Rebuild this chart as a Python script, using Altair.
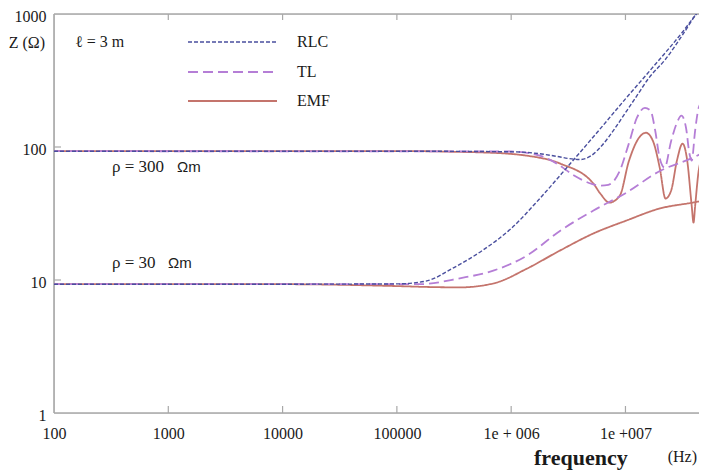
import altair as alt
import pandas as pd

# ---- values (frequency in Hz, impedance in ohm) ----
f_rlc30 = [1e2, 1e4, 1e5, 1.78e5, 3.16e5, 5.62e5, 1e6, 1.78e6, 3.16e6, 5.62e6, 1e7, 1.78e7, 3.16e7, 4.17e7, 4.79e7]
z_rlc30 = [9.3, 9.3, 9.35, 9.8, 12.4, 16.7, 24.4, 41, 72, 128, 230, 408, 733, 1000, 1150]

f_rlc300 = [1e2, 1e5, 1e6, 1.78e6, 2.51e6, 3.16e6, 3.98e6, 5.01e6, 6.31e6, 7.94e6, 1e7, 1.26e7, 1.58e7, 2.24e7, 3.16e7, 4.17e7, 4.79e7]
z_rlc300 = [93, 93, 92, 89, 85, 82, 80.5, 86, 104, 135, 181, 243, 325, 457, 696, 1000, 1150]

f_tl30 = [1e2, 1.58e5, 3.55e5, 7.08e5, 1.38e6, 2.69e6, 5.25e6, 1.02e7, 2.0e7, 3.89e7, 4.79e7]
z_tl30 = [9.3, 9.3, 10.3, 11.8, 15.3, 23.5, 33.3, 45.4, 66, 83, 90.6]

f_tl300 = [1e2, 1e6, 1.78e6, 2.51e6, 3.55e6, 5.01e6, 6.03e6, 7.08e6, 8.91e6, 1.07e7, 1.26e7, 1.48e7,
           1.66e7, 1.82e7, 1.99e7, 2.2e7, 2.51e7, 2.82e7, 3.09e7, 3.39e7, 3.63e7, 3.8e7, 4.07e7, 4.37e7, 4.79e7]
z_tl300 = [93, 92.5, 86, 75, 61, 53, 51.3, 52, 66, 106, 166, 197,
           187, 133, 83, 70, 111, 152, 172, 139, 89, 79, 133, 197, 224]

f_emf30 = [1e2, 1e4, 1e5, 2e5, 3.55e5, 7.08e5, 1.38e6, 2.69e6, 5.25e6, 1.02e7, 2.0e7, 3.89e7, 4.79e7]
z_emf30 = [9.3, 9.3, 9.0, 8.85, 8.8, 9.45, 12.2, 16.7, 22.4, 28, 34.5, 38.2, 39.5]

f_emf300 = [1e2, 1.58e5, 3.16e5, 5.62e5, 1e6, 1.38e6, 2.69e6, 5.25e6, 6.03e6, 7.24e6, 8.91e6, 1.07e7,
            1.32e7, 1.51e7, 1.74e7, 2.0e7, 2.24e7, 2.51e7, 2.82e7, 3.16e7, 3.47e7, 3.8e7, 3.94e7, 4.07e7, 4.37e7, 4.79e7]
z_emf300 = [93, 93, 92, 91, 88.7, 86, 75, 53, 44.6, 38.2, 43, 78,
            118, 128, 111, 69, 41, 47, 79, 106, 79, 36, 27, 36, 66, 86]

x_tick_values = [100, 1000, 10000, 100000, 1e6, 1e7]
y_tick_values = [1, 10, 100, 1000]
inner_x_ticks = [1e3, 1e4, 1e5, 1e6, 1e7]
inner_y_ticks = [10, 100]

models = ["RLC", "TL", "EMF"]
model_colors = {"RLC": "#4a4f9e", "TL": "#b57ed6", "EMF": "#c4746c"}
model_dash = {"RLC": [4, 2], "TL": [10, 5], "EMF": [1, 0]}
model_width = {"RLC": 1.4, "TL": 1.8, "EMF": 1.8}

def frame(fs, zs, rho):
    return pd.DataFrame({"f": fs, "Z": zs, "rho": rho})

data = {
    "RLC": pd.concat([frame(f_rlc30, z_rlc30, "30"), frame(f_rlc300, z_rlc300, "300")]),
    "TL": pd.concat([frame(f_tl30, z_tl30, "30"), frame(f_tl300, z_tl300, "300")]),
    "EMF": pd.concat([frame(f_emf30, z_emf30, "30"), frame(f_emf300, z_emf300, "300")]),
}

W, H = 645, 399
SERIF = "Liberation Serif"
GRAY = "#a8a8a8"
TXT = "#1a1a1a"

x_enc = alt.X(
    "f:Q",
    scale=alt.Scale(type="log", domain=[100, 4.4e7]),
    axis=alt.Axis(
        values=x_tick_values,
        labelExpr="datum.value > 5e6 ? '1e +007' : datum.value > 5e5 ? '1e + 006' : format(datum.value, 'd')",
        title=None, domain=False, ticks=False, grid=False,
        labelFont=SERIF, labelFontSize=16, labelColor=TXT, labelPadding=12,
        labelOverlap=False, labelFlush=False, labelBound=False,
    ),
)
y_enc = alt.Y(
    "Z:Q",
    scale=alt.Scale(type="log", domain=[1, 1000]),
    axis=alt.Axis(
        values=y_tick_values, labelExpr="format(datum.value, 'd')",
        title=None, domain=False, ticks=False, grid=False,
        labelFont=SERIF, labelFontSize=16, labelColor=TXT, labelPadding=8, labelOffset=2,
        labelOverlap=False, labelFlush=False, labelBound=False,
    ),
)

one = pd.DataFrame({"a": [0]})
layers = []

# frame: left, top, bottom (right edge lies outside the picture)
layers.append(alt.Chart(one).mark_rule(color=GRAY, strokeWidth=1.6).encode(x=alt.value(0), y=alt.value(0), y2=alt.value(H)))
layers.append(alt.Chart(one).mark_rule(color=GRAY, strokeWidth=1.6).encode(x=alt.value(0), x2=alt.value(W), y=alt.value(0)))
layers.append(alt.Chart(one).mark_rule(color=GRAY, strokeWidth=1.6).encode(x=alt.value(0), x2=alt.value(W), y=alt.value(H)))

for m in ["EMF", "TL", "RLC"]:
    layers.append(
        alt.Chart(data[m]).mark_line(
            clip=True, interpolate="monotone", color=model_colors[m],
            strokeDash=model_dash[m], strokeWidth=model_width[m],
        ).encode(x=x_enc, y=y_enc, detail="rho:N")
    )

# inner tick marks on the frame
xt = pd.DataFrame({"f": inner_x_ticks})
yt = pd.DataFrame({"Z": inner_y_ticks})
layers.append(alt.Chart(xt).mark_rule(color=GRAY, strokeWidth=1.2).encode(x=x_enc, y=alt.value(H), y2=alt.value(H - 7)))
layers.append(alt.Chart(xt).mark_rule(color=GRAY, strokeWidth=1.2).encode(x=x_enc, y=alt.value(0), y2=alt.value(6)))
layers.append(alt.Chart(yt).mark_rule(color=GRAY, strokeWidth=1.2).encode(y=y_enc, x=alt.value(0), x2=alt.value(7)))

# legend inside plot
for i, m in enumerate(models):
    yy = [28, 58, 87][i]
    layers.append(alt.Chart(one).mark_rule(
        color=model_colors[m], strokeDash=model_dash[m], strokeWidth=model_width[m]
    ).encode(x=alt.value(134), x2=alt.value(223), y=alt.value(yy)))
    layers.append(alt.Chart(one).mark_text(
        font=SERIF, fontSize=16, color=TXT, align="left", baseline="middle"
    ).encode(x=alt.value(243), y=alt.value(yy), text=alt.value(m)))

def label(txt, x, y, size=16, align="left", weight="normal", font=SERIF, style="normal"):
    return alt.Chart(one).mark_text(
        font=font, fontSize=size, color=TXT, align=align, baseline="middle",
        fontWeight=weight, fontStyle=style,
    ).encode(x=alt.value(x), y=alt.value(y), text=alt.value(txt))

layers += [
    label("Z (Ω)", -9, 29, align="right"),
    label("ℓ = 3 m", 21, 28),
    label("ρ = 300", 58, 153, size=17),
    label("Ωm", 123, 153, size=15, font="Liberation Sans"),
    label("ρ = 30", 58, 249, size=17),
    label("Ωm", 114, 249, size=15, font="Liberation Sans"),
    label("frequency", 480, 444, size=22, weight="bold"),
    label("(Hz)", 643, 443, size=16, align="right"),
]

chart = alt.layer(*layers).properties(
    width=W, height=H,
    padding={"left": 46, "top": 6, "right": 0, "bottom": 57},
    autosize=alt.AutoSizeParams(type="none"),
).configure_view(stroke=None).configure(background="white")

chart.save("out.html", embed_options={"renderer": "svg", "actions": False})
